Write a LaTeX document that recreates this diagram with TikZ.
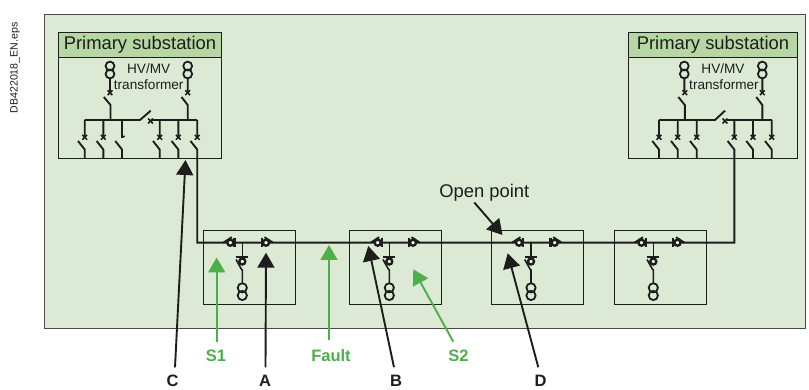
\documentclass[tikz,border=0pt]{standalone}
\usepackage{fontspec}
\setmainfont{Liberation Sans}
\usetikzlibrary{arrows.meta}
\definecolor{panel}{HTML}{DCEAD5}
\definecolor{head}{HTML}{B6D7A3}
\definecolor{ink}{HTML}{1D1D1B}
\definecolor{grn}{HTML}{4BB04A}
\tikzset{
  x=1pt,y=-1pt,
  panelbox/.style={draw=ink!80,fill=panel,line width=1pt},
  headbox/.style={draw=ink,fill=head,line width=1pt},
  framebox/.style={draw=ink,line width=1pt},
  wire/.style={draw=ink,line width=1.9pt},
  callout/.style={draw=ink,line width=1.9pt,-{Triangle[width=17pt,length=15pt]}},
  gcallout/.style={draw=grn,line width=1.9pt,-{Triangle[width=17pt,length=15pt]}},
  lab/.style={font=\fontsize{16.5}{18}\selectfont\bfseries,text=ink,inner sep=0pt},
  glab/.style={lab,text=grn},
  title/.style={font=\fontsize{18.4}{20}\selectfont,text=ink,inner sep=0pt},
  plainlab/.style={font=\fontsize{18.4}{20}\selectfont,text=ink,inner sep=0pt},
  small/.style={font=\fontsize{13.6}{15}\selectfont,text=ink,inner sep=0pt},
  coil/.style={draw=ink,line width=1.8pt},
}
\newcommand{\xfmr}[2]{%
  \draw[coil] (#1,#2) circle[radius=4.4];
  \draw[coil] (#1,#2+8) circle[radius=4.4];
}
\newcommand{\xmark}[2]{%
  \draw[ink,line width=1.5pt] (#1-2.4,#2-2.4) -- (#1+2.4,#2+2.4) (#1-2.4,#2+2.4) -- (#1+2.4,#2-2.4);
}
\newcommand{\feeder}[1]{%
  \draw[wire] (#1,120) -- (#1,138) (#1-6.7,141) -- (#1,149.5) -- (#1,159);
}
\newcommand{\rmswitchL}[2]{%
  \draw[ink,line width=1.9pt] (#1-7,#2) -- (#1+1.5,#2-5.5);
  \draw[ink,line width=2.2pt] (#1+4.2,#2-5) -- (#1+4.2,#2+4.7);
  \draw[ink,line width=2.4pt,fill=white] (#1,#2) circle[radius=3];
}
\newcommand{\rmswitchR}[2]{%
  \draw[ink,line width=1.9pt] (#1+7,#2) -- (#1-1.5,#2-5.5);
  \draw[ink,line width=2.2pt] (#1-4.2,#2-5) -- (#1-4.2,#2+4.7);
  \draw[ink,line width=2.4pt,fill=white] (#1,#2) circle[radius=3];
}
\newcommand{\rmtee}[1]{%
  \draw[wire,line width=1.6pt] (#1,242.7) -- (#1,258);
  \draw[wire,line width=1.6pt] (#1-6.3,259.5) -- (#1-1,269) -- (#1,270) -- (#1,283);
  \draw[ink,line width=2.2pt] (#1-6.5,257.3) -- (#1+6,257.3);
  \draw[ink,line width=2.4pt,fill=white] (#1,261.5) circle[radius=3];
  \draw[coil] (#1,287.8) circle[radius=4.6];
  \draw[coil] (#1,295.5) circle[radius=4.6];
}
\begin{document}
\begin{tikzpicture}
\useasboundingbox (0,0) rectangle (809,390);
\fill[white] (0,0) rectangle (809,390);
\node[rotate=90,font=\fontsize{10.6}{12}\selectfont,text=ink,inner sep=0pt] (ref) at (15,68) {DB422018\_EN.eps};
\path[panelbox] (44.5,14.3) rectangle (805,328.7);

% --- left primary substation
\path[headbox] (58.5,33) rectangle (221.7,58);
\path[framebox] (58.5,58) rectangle (221.7,159);
\node[title] (t1) at (140,45) {Primary substation};
\node[small] (hv1) at (148.7,68.5) {HV/MV};
\node[small] (tr1) at (148.7,85) {transformer};
\xfmr{110}{66}\xfmr{187.7}{66}
\draw[wire] (110,78.5) -- (110,92) (103.8,97) -- (110.5,105) -- (110.5,120);
\draw[wire] (187.7,78.5) -- (187.7,92) (181.5,97) -- (187.7,105) -- (187.7,120);
\xmark{110}{92.7}\xmark{187.7}{92.7}
\draw[wire] (84.7,120) -- (140,120) -- (150.7,110.7);
\draw[wire] (152,120) -- (197.2,120);
\xmark{150.5}{121}
\feeder{84.7}\feeder{103.3}\feeder{122}\feeder{159.7}\feeder{178.3}
\xmark{84.7}{137.3}\xmark{103.3}{137.3}\xmark{159.7}{137.3}\xmark{178.3}{137.3}\xmark{197.2}{137.3}
\draw[ink,line width=1.5pt] (122,137.5) -- (124.7,136);

% --- right primary substation
\path[headbox] (628.5,33) rectangle (797,58);
\path[framebox] (628.5,58) rectangle (797,159);
\node[title] (t2) at (713,45) {Primary substation};
\node[small] (hv2) at (723,68.5) {HV/MV};
\node[small] (tr2) at (724,85) {transformer};
\xfmr{684.3}{66}\xfmr{762.3}{66}
\draw[wire] (684.3,78.5) -- (684.3,92) (678.3,97) -- (684.8,105) -- (684.8,120);
\draw[wire] (762.3,78.5) -- (762.3,92) (756.3,97) -- (762.3,105) -- (762.3,120);
\xmark{684.8}{92.7}\xmark{762.3}{92.7}
\draw[wire] (659,120) -- (715,120) -- (725,110.7);
\draw[wire] (727,120) -- (771.7,120);
\xmark{725}{121}
\feeder{659}\feeder{677.7}\feeder{696.7}\feeder{753}\feeder{771.7}
\xmark{659}{137.3}\xmark{677.7}{137.3}\xmark{696.7}{137.3}\xmark{734.3}{137.3}\xmark{753}{137.3}\xmark{771.7}{137.3}

% --- ring main units
\path[framebox] (203.3,230.3) rectangle (295.7,304.3);
\path[framebox] (349.7,230.3) rectangle (441.7,304.3);
\path[framebox] (491.7,230.3) rectangle (583.3,304.3);
\path[framebox] (614.7,230.3) rectangle (706.7,304.3);

% --- main feeder
\draw[wire] (197.2,120) -- (197.2,138) (190.5,141) -- (197.2,149.5) -- (197.2,242.7) -- (734.3,242.7) -- (734.3,149.5) -- (727.6,141) (734.3,138) -- (734.3,120);

\rmswitchL{230.3}{242.7}\rmswitchR{266}{242.7}\rmtee{242.3}
\rmswitchL{377.7}{242.7}\rmswitchR{413}{242.7}\rmtee{389.3}
\rmswitchL{519}{242.7}\rmswitchR{554.7}{242.7}\rmtee{531}
\rmswitchL{641.5}{242.7}\rmswitchR{677.5}{242.7}\rmtee{653.3}

% --- labels and callouts
\node[plainlab] (op) at (484.3,192.5) {Open point};
\node[glab] (s1) at (216,355.5) {S1};
\node[glab] (fault) at (331,355.5) {Fault};
\node[glab] (s2) at (458.5,355.5) {S2};
\node[lab] (c) at (172.5,381) {C};
\node[lab] (a) at (265,381) {A};
\node[lab] (b) at (396,381) {B};
\node[lab] (d) at (540.5,381) {D};
\coordinate (ops) at (474.3,202.5);
\coordinate (optip) at (502.5,235);
\coordinate (s1s) at (216.7,342);
\coordinate (s1t) at (216.7,257.5);
\coordinate (fs) at (329,340);
\coordinate (ft) at (329,245);
\coordinate (s2s) at (453.3,341.7);
\coordinate (s2t) at (413.3,269.3);
\coordinate (cs) at (175,367.3);
\coordinate (ct) at (185.5,160);
\coordinate (as) at (265.5,367.3);
\coordinate (at) at (266,252.7);
\coordinate (bs) at (394,367.3);
\coordinate (bt) at (368.3,246);
\coordinate (ds) at (538.3,367.3);
\coordinate (dt) at (507.7,253.3);
\draw[callout] (ops) -- (optip);
\draw[gcallout] (s1s) -- (s1t);
\draw[gcallout] (fs) -- (ft);
\draw[gcallout] (s2s) -- (s2t);
\draw[callout] (cs) -- (ct);
\draw[callout] (as) -- (at);
\draw[callout] (bs) -- (bt);
\draw[callout] (ds) -- (dt);
\end{tikzpicture}
\end{document}
